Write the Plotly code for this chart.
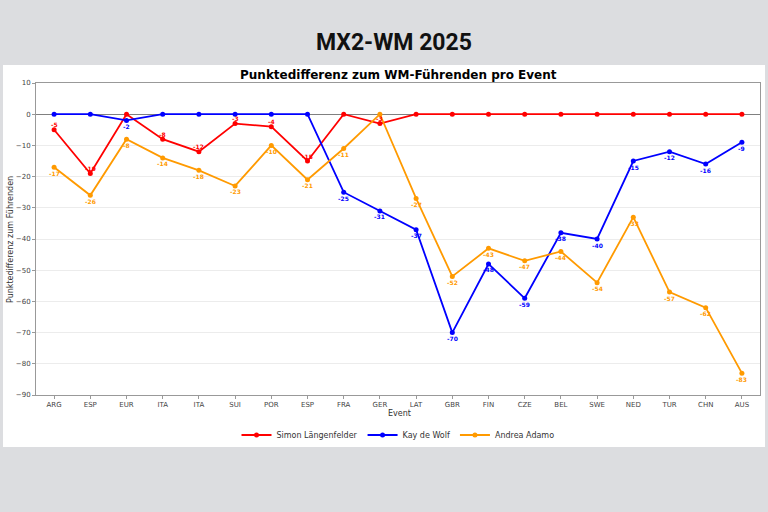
import plotly.graph_objects as go

events = ["ARG", "ESP", "EUR", "ITA", "ITA", "SUI", "POR", "ESP", "FRA", "GER",
          "LAT", "GBR", "FIN", "CZE", "BEL", "SWE", "NED", "TUR", "CHN", "AUS"]
simon = [-5, -19, 0, -8, -12, -3, -4, -15, 0, -3, 0, 0, 0, 0, 0, 0, 0, 0, 0, 0]
kay = [0, 0, -2, 0, 0, 0, 0, 0, -25, -31, -37, -70, -48, -59, -38, -40, -15, -12, -16, -9]
andrea = [-17, -26, -8, -14, -18, -23, -10, -21, -11, 0, -27, -52, -43, -47, -44, -54, -33, -57, -62, -83]
y_ticks = [10, 0, -10, -20, -30, -40, -50, -60, -70, -80, -90]

series = [
    ("Simon Längenfelder", simon, "#ff0000", 5),
    ("Kay de Wolf", kay, "#0000ff", -6),
    ("Andrea Adamo", andrea, "#ff9a00", -6),
]

xs = list(range(len(events)))
fig = go.Figure()
annotations = []
for name, vals, color, shift in series:
    fig.add_trace(go.Scatter(
        x=xs, y=vals, mode="lines+markers", name=name,
        line=dict(color=color, width=1.8),
        marker=dict(color=color, size=5),
    ))
    for x, v in zip(xs, vals):
        if v != 0:
            annotations.append(dict(
                x=x, y=v, xref="x", yref="y", text=str(v), showarrow=False,
                yshift=shift, font=dict(family="DejaVu Sans", size=6, color=color, weight="bold"),
            ))

# layout geometry (plot area px: x 36..760, y 83..395)
L, R, T, B = 36, 760, 83, 395
W, H = R - L, B - T

def px(xp):
    return (xp - L) / W

def py(yp):
    return (B - yp) / H

annotations.append(dict(
    x=px(394), y=py(42), xref="paper", yref="paper", text="MX2-WM 2025", showarrow=False,
    font=dict(family="Roboto", size=23, color="#111111", weight="bold"),
    xanchor="center", yanchor="middle",
))
annotations.append(dict(
    x=px(398), y=py(75), xref="paper", yref="paper", text="Punktedifferenz zum WM-Führenden pro Event",
    showarrow=False, font=dict(family="DejaVu Sans", size=12, color="#000000", weight="bold"),
    xanchor="center", yanchor="middle",
))
annotations.append(dict(
    x=px(399), y=py(413), xref="paper", yref="paper", text="Event", showarrow=False,
    font=dict(family="DejaVu Sans", size=8, color="#333333"), xanchor="center", yanchor="middle",
))
annotations.append(dict(
    x=px(10), y=py(240), xref="paper", yref="paper", text="Punktedifferenz zum Führenden",
    showarrow=False, textangle=-90,
    font=dict(family="DejaVu Sans", size=8, color="#333333"), xanchor="center", yanchor="middle",
))

fig.update_layout(
    width=768, height=512,
    margin=dict(l=L, r=768 - R, t=T, b=512 - B, pad=0),
    paper_bgcolor="#dcdde0",
    plot_bgcolor="#ffffff",
    showlegend=True,
    legend=dict(orientation="h", x=0.5, xanchor="center", y=py(435), yanchor="middle",
                font=dict(family="DejaVu Sans", size=8, color="#333333"),
                bgcolor="rgba(0,0,0,0)", itemwidth=30),
    annotations=annotations,
    shapes=[dict(type="rect", xref="paper", yref="paper", layer="below",
                 x0=px(3), x1=px(765), y0=py(447), y1=py(65),
                 fillcolor="#ffffff", line=dict(width=0))],
    xaxis=dict(range=[-0.5, len(events) - 0.5], tickmode="array", tickvals=xs, ticktext=events,
               showgrid=False, zeroline=False, showline=True, mirror=True, linecolor="#999999",
               linewidth=1, ticks="outside", ticklen=3, tickcolor="#999999",
               tickfont=dict(family="DejaVu Sans", size=7, color="#444444")),
    yaxis=dict(range=[-90, 10], tickmode="array", tickvals=y_ticks,
               ticktext=[str(t).replace("-", "\u2212") for t in y_ticks],
               showgrid=True, gridcolor="#ececec", gridwidth=1,
               zeroline=True, zerolinecolor="#808080", zerolinewidth=1,
               showline=True, mirror=True, linecolor="#999999", linewidth=1,
               ticks="outside", ticklen=3, tickcolor="#999999",
               tickfont=dict(family="DejaVu Sans", size=7, color="#444444")),
)

fig.write_html("out.html")
